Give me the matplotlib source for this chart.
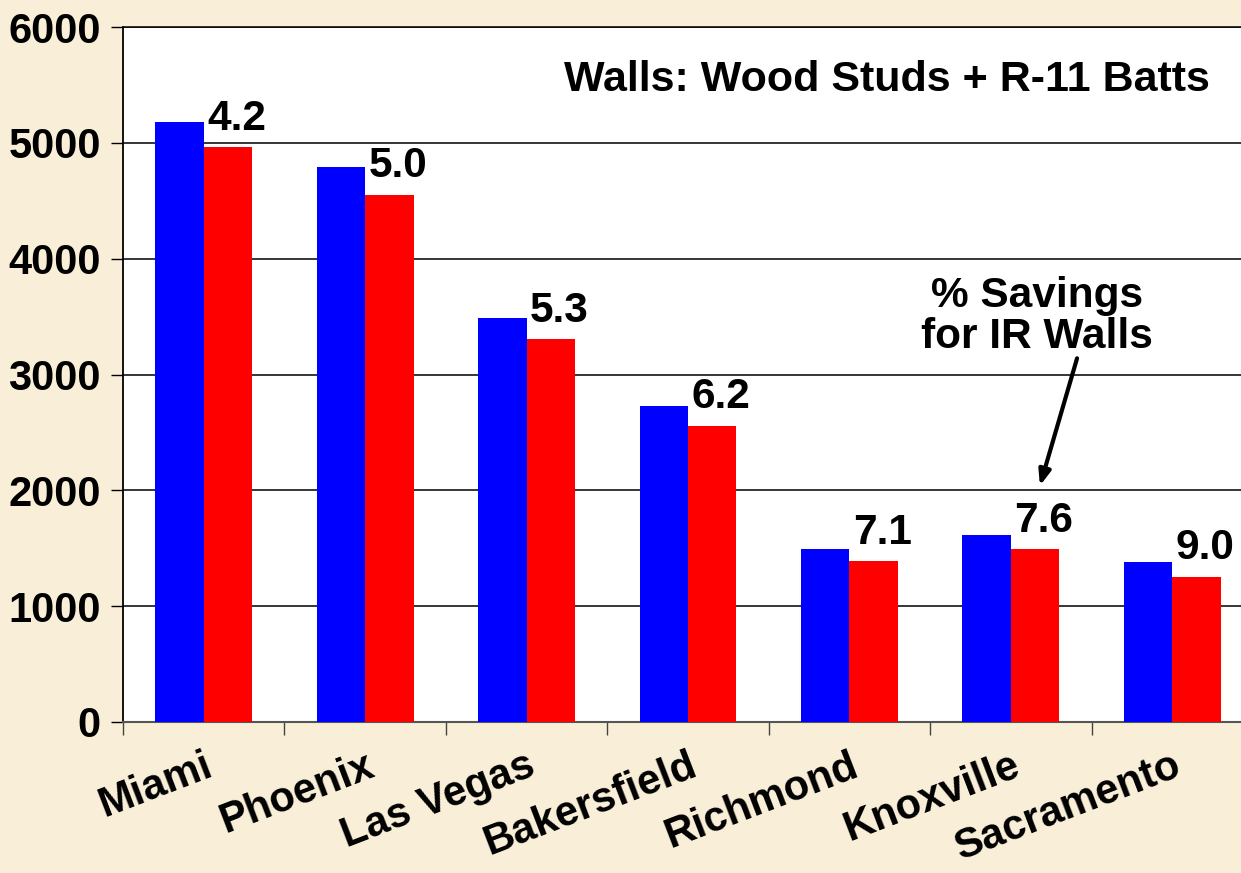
import matplotlib.pyplot as plt
import numpy as np

# ciudades y consumo (kWh) base vs. paredes IR
cities = ['Miami', 'Phoenix', 'Las Vegas', 'Bakersfield', 'Richmond', 'Knoxville', 'Sacramento']
base = [5180, 4790, 3490, 2730, 1493, 1614, 1380]
ir_walls = [4962, 4552, 3303, 2559, 1387, 1491, 1256]
savings = ['4.2', '5.0', '5.3', '6.2', '7.1', '7.6', '9.0']
yticks = [0, 1000, 2000, 3000, 4000, 5000, 6000]

plt.rcParams['font.family'] = ['Liberation Sans', 'DejaVu Sans']
plt.rcParams['font.weight'] = 'bold'

bg = '#F9EFD8'
fig = plt.figure(figsize=(12.41, 8.73), dpi=100, facecolor=bg)
ax = fig.add_axes([0.0991, 0.173, 0.9106, 0.796])

x = np.arange(len(cities))
w = 0.3
ax.bar(x - w / 2, base, width=w, color='#0000FF', zorder=3)
ax.bar(x + w / 2, ir_walls, width=w, color='#FF0000', zorder=3)

# etiquetas de % ahorro
for xi, v, s in zip(x, ir_walls, savings):
    ax.annotate(s, (xi + 0.02, v), xytext=(0, 6), textcoords='offset points',
                ha='left', va='bottom', fontsize=30.5, fontweight='bold', zorder=4)

ax.set_xlim(-0.5, 6.5)
ax.set_ylim(0, 6000)
ax.set_yticks(yticks)
ax.set_yticklabels([str(t) for t in yticks], fontsize=30, fontweight='bold')
ax.tick_params(axis='y', length=9, width=1, pad=7, direction='out')

ax.set_xticks(x)
ax.set_xticklabels(cities, fontsize=30, fontweight='bold', rotation=21,
                   ha='right', rotation_mode='anchor')
ax.tick_params(axis='x', which='major', length=0, pad=17)
ax.set_xticks(np.arange(-0.5, 7, 1), minor=True)
ax.tick_params(axis='x', which='minor', length=9, width=1, color='#444444')

# grilla
ax.grid(axis='y', color='black', linewidth=1.1, zorder=1)
ax.set_axisbelow(True)
ax.spines['right'].set_visible(False)
ax.spines['left'].set_linewidth(1.3)
ax.spines['bottom'].set_color('#555555')
ax.spines['bottom'].set_linewidth(1.5)
ax.spines['top'].set_linewidth(1.1)

ax.text(0.962, 0.924, 'Walls: Wood Studs + R-11 Batts', transform=ax.transAxes,
        ha='right', va='center', fontsize=31, fontweight='bold')

ax.text(5.16, 3150, '% Savings\nfor IR Walls', ha='center', va='bottom',
        fontsize=30.5, fontweight='bold', linespacing=1.05)
ax.annotate('', xy=(5.18, 2040), xytext=(5.41, 3140),
            arrowprops=dict(arrowstyle='-|>,head_width=0.35,head_length=0.9',
                            color='black', lw=3, shrinkA=0, shrinkB=0))

fig.savefig('out.png', dpi=100, facecolor=bg)
